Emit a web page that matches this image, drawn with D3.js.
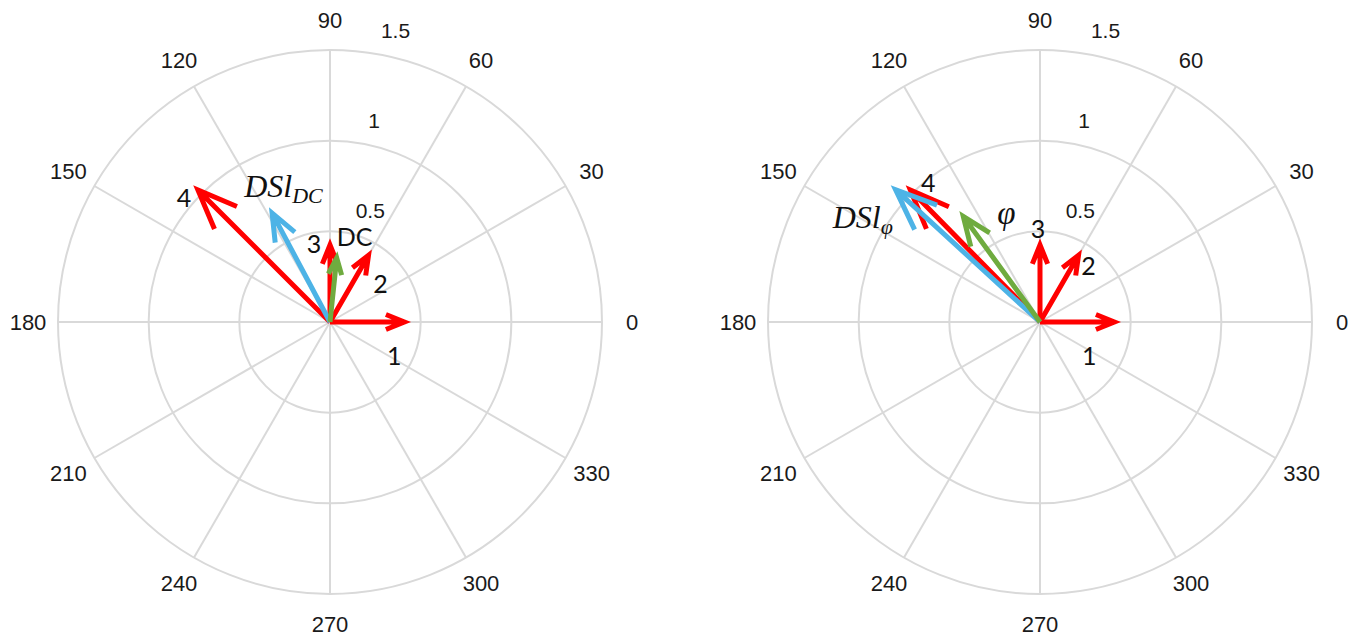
<!DOCTYPE html>
<html>
<head>
<meta charset="utf-8">
<script src="https://cdn.jsdelivr.net/npm/d3@7"></script>
<style>
html,body{margin:0;padding:0;background:#fff;}
svg{display:block;}
</style>
</head>
<body>
<svg id="chart" width="1355" height="637"></svg>
<script>
// ---- data ----
const angleTicks = [0, 30, 60, 90, 120, 150, 180, 210, 240, 270, 300, 330];
const radialTicks = [0.5, 1, 1.5];
const radialTickLabels = ["0.5", "1", "1.5"];

// left panel vectors
const leftNames = ["1", "2", "3", "4", "DSl_DC", "DC"];
const leftMagnitudes = [0.41, 0.425, 0.425, 1.03, 0.68, 0.355];
const leftAngles = [0, 60, 90, 135, 118, 84];
const leftKinds = ["harm", "harm", "harm", "harm", "dsl", "ref"];

// right panel vectors
const rightNames = ["1", "2", "3", "4", "DSl_φ", "φ"];
const rightMagnitudes = [0.41, 0.425, 0.425, 1.02, 1.08, 0.72];
const rightAngles = [0, 60, 90, 134.5, 137.5, 126];
const rightKinds = ["harm", "harm", "harm", "harm", "dsl", "ref"];

// ---- styles / layout ----
const colors = { harm: "#ff0000", dsl: "#4db3e6", ref: "#6fab3f" };
const gridColor = "#d9d9d9";
const outerR = 272;
const panels = [
  { cx: 330, cy: 322, names: leftNames, mags: leftMagnitudes, angs: leftAngles, kinds: leftKinds,
    offsets: { "1": [-10, 33], "2": [12, 28], "3": [-16, -2], "4": [-14, 7], "DC": [18, -22], "DSl_DC": [-28, -16] } },
  { cx: 1040, cy: 322, names: rightNames, mags: rightMagnitudes, angs: rightAngles, kinds: rightKinds,
    offsets: { "1": [-25, 33], "2": [10, 10], "3": [-2, -17], "4": [18, -8], "φ": [43, -3], "DSl_φ": [-63, 38] } }
];

const svg = d3.select("#chart");
svg.append("rect").attr("width", 1355).attr("height", 637).attr("fill", "#fff");

const r = d3.scaleLinear().domain([0, 1.5]).range([0, outerR]);
const toRad = d => d * Math.PI / 180;

panels.forEach(p => {
  const g = svg.append("g").attr("transform", `translate(${p.cx},${p.cy})`);

  // grid circles
  g.selectAll("circle.ring").data(radialTicks).join("circle")
    .attr("class", "ring").attr("r", d => r(d))
    .attr("fill", "none").attr("stroke", gridColor).attr("stroke-width", 2);

  // spokes
  g.selectAll("line.spoke").data(angleTicks).join("line")
    .attr("class", "spoke")
    .attr("x1", 0).attr("y1", 0)
    .attr("x2", d => r(1.5) * Math.cos(toRad(d)))
    .attr("y2", d => -r(1.5) * Math.sin(toRad(d)))
    .attr("stroke", gridColor).attr("stroke-width", 2);

  // angle labels
  g.selectAll("text.ang").data(angleTicks).join("text")
    .attr("class", "ang")
    .attr("x", d => (r(1.5) + 30) * Math.cos(toRad(d)))
    .attr("y", d => -(r(1.5) + 30) * Math.sin(toRad(d)))
    .attr("text-anchor", "middle").attr("dominant-baseline", "central")
    .attr("font-family", "Liberation Sans, Arial, sans-serif").attr("font-size", 22)
    .attr("fill", "#1a1a1a")
    .text(d => d);

  // radial labels
  g.selectAll("text.rad").data(radialTicks).join("text")
    .attr("class", "rad")
    .attr("x", d => (r(d) + 22) * Math.cos(toRad(82)) + 10)
    .attr("y", d => -(r(d) + 22) * Math.sin(toRad(82)))
    .attr("text-anchor", "start").attr("dominant-baseline", "central")
    .attr("font-family", "Liberation Sans, Arial, sans-serif").attr("font-size", 21)
    .attr("fill", "#1a1a1a")
    .text((d, i) => radialTickLabels[i]);

  // arrows
  const vecs = p.names.map((n, i) => ({ name: n, mag: p.mags[i], ang: p.angs[i], kind: p.kinds[i] }));
  vecs.forEach(v => {
    const L = r(v.mag);
    const a = toRad(v.ang);
    const tx = L * Math.cos(a), ty = -L * Math.sin(a);
    const h = 0.2 * L + 5;
    const back = Math.atan2(-ty, -tx);
    const s = toRad(22);
    const b1x = tx + h * Math.cos(back + s), b1y = ty + h * Math.sin(back + s);
    const b2x = tx + h * Math.cos(back - s), b2y = ty + h * Math.sin(back - s);
    const path = d3.path();
    path.moveTo(0, 0); path.lineTo(tx, ty);
    path.moveTo(b1x, b1y); path.lineTo(tx, ty); path.lineTo(b2x, b2y);
    g.append("path").attr("d", path.toString())
      .attr("fill", "none").attr("stroke", colors[v.kind])
      .attr("stroke-width", 5).attr("stroke-linejoin", "miter").attr("stroke-linecap", "butt");

    const off = p.offsets[v.name];
    const lx = tx + off[0], ly = ty + off[1];
    if (v.kind === "dsl") {
      const parts = v.name.split("_");
      const t = g.append("text").attr("x", lx).attr("y", ly)
        .attr("font-family", "Liberation Serif, Times New Roman, serif")
        .attr("font-style", "italic").attr("font-size", 32).attr("fill", "#111");
      t.append("tspan").text(parts[0]);
      t.append("tspan").attr("dy", 6).attr("font-size", 22).text(parts[1]);
    } else if (v.name === "φ") {
      g.append("text").attr("x", lx).attr("y", ly)
        .attr("text-anchor", "middle").attr("dominant-baseline", "central")
        .attr("font-family", "Liberation Serif, Times New Roman, serif")
        .attr("font-style", "italic").attr("font-size", 33).attr("fill", "#111")
        .text(v.name);
    } else {
      g.append("text").attr("x", lx).attr("y", ly)
        .attr("text-anchor", "middle").attr("dominant-baseline", "central")
        .attr("font-family", "Lato, Open Sans, sans-serif").attr("font-size", 25).attr("fill", "#111")
        .text(v.name);
    }
  });
});
</script>
</body>
</html>
